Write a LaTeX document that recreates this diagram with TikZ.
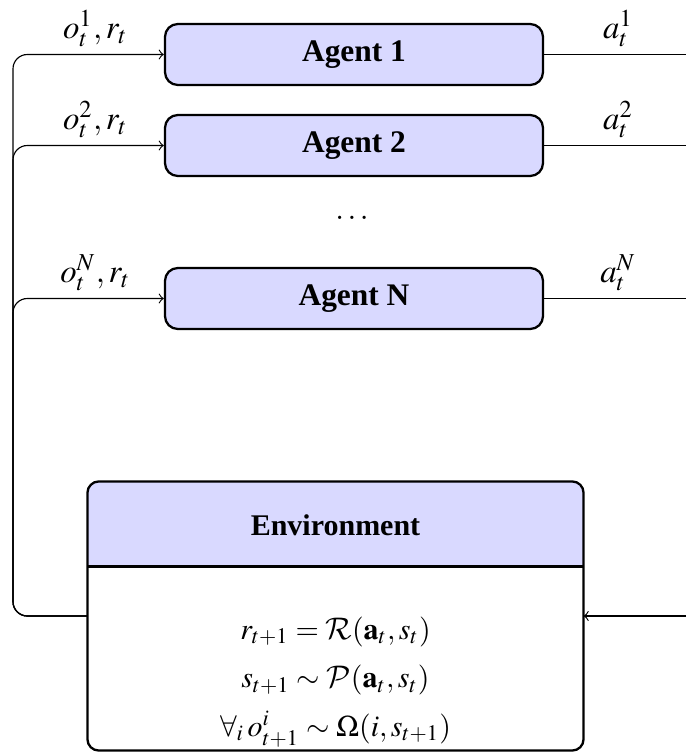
\documentclass[tikz,border=0pt]{standalone}
\usepackage{mathptmx}
\DeclareMathAlphabet{\mathcal}{OMS}{cmsy}{m}{n}
\usepackage{fontspec}
\setmainfont{Liberation Serif}
\usetikzlibrary{calc}
\newlength\pxl
\setlength\pxl{0.35pt}
\tikzset{
  agentbox/.style={draw, line width=0.8pt, fill=blue!15, rounded corners=4.5pt,
    minimum width=378\pxl, minimum height=61\pxl, inner sep=0pt,
    font=\fontsize{11}{13}\selectfont\bfseries},
  conn/.style={line width=0.4pt},
  lbl/.style={font=\fontsize{11.5}{13}\selectfont, inner sep=2.5pt},
}
\begin{document}
\begin{tikzpicture}[x=0.35pt, y=-0.35pt]
\useasboundingbox (0,0) rectangle (686,753);
% agents
\node[agentbox] (a1) at (354,54.5) {Agent 1};
\node[agentbox] (a2) at (354,145.5) {Agent 2};
\node[agentbox] (aN) at (354,298.5) {Agent N};
\node[font=\fontsize{11}{13}\selectfont] (dots) at (352,218) {$\dots$};
% environment
\node[minimum width=495\pxl, minimum height=268\pxl, inner sep=0pt] (env) at (335.5,616) {};
\fill[blue!15] ([yshift=-85\pxl]env.north west) [rounded corners=4pt] -- (env.north west) -- (env.north east) [sharp corners] -- ([yshift=-85\pxl]env.north east) -- cycle;
\draw[line width=0.8pt] ([yshift=-85\pxl]env.north west) -- ([yshift=-85\pxl]env.north east);
\draw[line width=0.8pt, rounded corners=4pt] (env.north west) rectangle (env.south east);
\node[font=\fontsize{10.5}{13}\selectfont\bfseries] (envhead) at (335.5,525) {Environment};
\node[font=\fontsize{10.5}{13}\selectfont, align=center] (eqs) at (335.5,682)
  {$r_{t+1} = \mathcal{R}(\mathbf{a}_t, s_t)$\\[4pt]
   $s_{t+1} \sim \mathcal{P}(\mathbf{a}_t, s_t)$\\[4pt]
   $\forall_i\, o^i_{t+1} \sim \Omega(i, s_{t+1})$};
% side coordinates
\coordinate (lx) at (13,0);
\coordinate (rx) at (686,0);
% inputs to agents
\draw[conn, ->, rounded corners=5pt] (env.west) -- (env.west -| lx) -- (lx |- a1.west)
  -- node[lbl, midway, above, xshift=7\pxl] {$o_t^1, r_t$} (a1.west);
\draw[conn, ->, rounded corners=5pt] (env.west) -- (env.west -| lx) -- (lx |- a2.west)
  -- node[lbl, midway, above, xshift=7\pxl] {$o_t^2, r_t$} (a2.west);
\draw[conn, ->, rounded corners=5pt] (env.west) -- (env.west -| lx) -- (lx |- aN.west)
  -- node[lbl, midway, above, xshift=7\pxl] {$o_t^N, r_t$} (aN.west);
% outputs of agents
\draw[conn] (a1.east) -- node[lbl, midway, above, xshift=3\pxl] {$a_t^1$} (a1.east -| rx);
\draw[conn] (a2.east) -- node[lbl, midway, above, xshift=3\pxl] {$a_t^2$} (a2.east -| rx);
\draw[conn] (aN.east) -- node[lbl, midway, above, xshift=3\pxl] {$a_t^N$} (aN.east -| rx);
\draw[conn, ->] (env.east -| rx) -- (env.east);
\end{tikzpicture}
\end{document}
